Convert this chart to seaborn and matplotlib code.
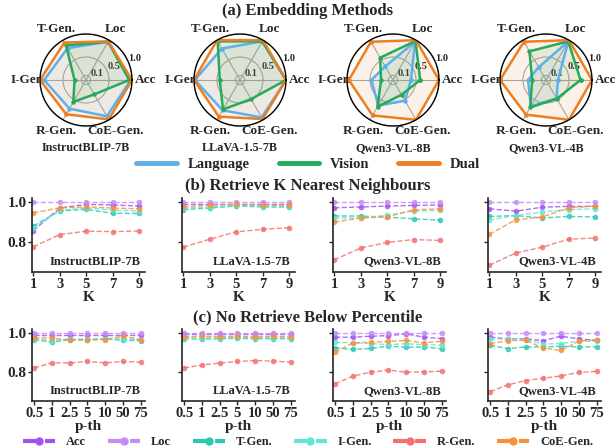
import numpy as np
import pandas as pd
import seaborn as sns
import matplotlib.pyplot as plt
from matplotlib.lines import Line2D

sns.set_style("ticks")
plt.rcParams['font.family'] = ['Liberation Serif', 'DejaVu Serif']
plt.rcParams['font.weight'] = 'bold'
plt.rcParams['axes.labelweight'] = 'bold'

W, H = 616, 448

models = ["InstructBLIP-7B", "LLaVA-1.5-7B", "Qwen3-VL-8B", "Qwen3-VL-4B"]

# (a) radar: order Acc, Loc, T-Gen., I-Gen, R-Gen., CoE-Gen.
radar_labels = ["Acc", "Loc", "T-Gen.", "I-Gen", "R-Gen.", "CoE-Gen."]
radar_language = [
    [0.97, 0.96, 0.80, 0.91, 0.72, 0.91],
    [1.00, 0.97, 0.79, 0.98, 0.76, 0.94],
    [0.39, 0.96, 0.34, 0.47, 0.64, 0.52],
    [0.26, 0.97, 0.32, 0.39, 0.66, 0.46],
]
radar_vision = [
    [0.94, 0.96, 0.87, 0.25, 0.55, 0.36],
    [1.00, 0.97, 0.97, 0.44, 0.74, 0.48],
    [0.59, 0.98, 0.56, 0.26, 0.67, 0.37],
    [0.75, 0.97, 0.72, 0.30, 0.69, 0.47],
]
radar_dual = [
    [1.00, 0.97, 0.94, 1.00, 0.86, 0.99],
    [1.00, 1.00, 1.00, 1.00, 0.92, 0.98],
    [1.00, 1.00, 0.96, 0.96, 0.89, 1.00],
    [1.00, 1.00, 0.96, 1.00, 0.87, 1.00],
]
methods = ["Language", "Vision", "Dual"]
method_colors = ["#5DB1E8", "#27A95A", "#EB7F22"]

metrics = ["Acc", "Loc", "T-Gen.", "I-Gen.", "R-Gen.", "CoE-Gen."]
metric_colors = ["#A252F2", "#C58CF8", "#2BC8B4", "#62E6D4", "#F4716E", "#F9913C"]

# (b) retrieve K nearest neighbours
k_values = [1, 3, 5, 7, 9]
k_acc = [[0.857, 0.970, 0.988, 0.985, 0.980],
         [0.990, 0.990, 0.990, 0.990, 0.990],
         [0.971, 0.975, 0.980, 0.983, 0.985],
         [0.966, 0.954, 0.974, 0.978, 0.978]]
k_loc = [[1.0, 1.0, 1.0, 1.0, 1.0],
         [1.0, 1.0, 1.0, 1.0, 1.0],
         [1.0, 1.0, 1.0, 1.0, 1.0],
         [1.0, 1.0, 1.0, 1.0, 1.0]]
k_tgen = [[0.880, 0.955, 0.963, 0.943, 0.943],
          [0.962, 0.970, 0.980, 0.975, 0.975],
          [0.930, 0.930, 0.924, 0.916, 0.909],
          [0.928, 0.932, 0.920, 0.928, 0.925]]
k_igen = [[0.870, 0.958, 0.970, 0.960, 0.955],
          [0.968, 0.975, 0.983, 0.980, 0.980],
          [0.920, 0.920, 0.934, 0.955, 0.958],
          [0.911, 0.932, 0.950, 0.962, 0.966]]
k_rgen = [[0.776, 0.837, 0.854, 0.852, 0.855],
          [0.774, 0.814, 0.851, 0.863, 0.872],
          [0.711, 0.770, 0.798, 0.812, 0.808],
          [0.684, 0.745, 0.774, 0.814, 0.820]]
k_coe = [[0.946, 0.971, 0.975, 0.970, 0.966],
         [0.974, 0.985, 0.988, 0.985, 0.985],
         [0.900, 0.920, 0.926, 0.961, 0.966],
         [0.839, 0.911, 0.925, 0.971, 0.980]]

# (c) no retrieve below percentile
p_values = ["0.5", "1", "2.5", "5", "10", "50", "75"]
p_acc = [[0.991, 0.991, 0.991, 0.991, 0.991, 0.991, 0.991],
         [0.995, 0.995, 0.995, 0.995, 0.995, 0.995, 0.995],
         [0.978, 0.978, 0.983, 0.986, 0.995, 0.978, 0.971],
         [0.978, 0.969, 0.969, 0.960, 0.983, 0.969, 0.962]]
p_loc = [[1.0] * 7, [1.0] * 7, [1.0] * 7, [1.0] * 7]
p_tgen = [[0.966, 0.952, 0.966, 0.962, 0.969, 0.962, 0.960],
          [0.970, 0.968, 0.970, 0.972, 0.970, 0.970, 0.970],
          [0.923, 0.915, 0.920, 0.932, 0.926, 0.928, 0.918],
          [0.936, 0.919, 0.928, 0.928, 0.931, 0.928, 0.928]]
p_igen = [[0.971, 0.960, 0.969, 0.969, 0.971, 0.969, 0.966],
          [0.975, 0.973, 0.975, 0.977, 0.975, 0.976, 0.975],
          [0.952, 0.949, 0.945, 0.940, 0.944, 0.940, 0.937],
          [0.969, 0.969, 0.966, 0.943, 0.945, 0.957, 0.957]]
p_rgen = [[0.820, 0.846, 0.846, 0.853, 0.846, 0.853, 0.850],
          [0.820, 0.835, 0.845, 0.853, 0.858, 0.855, 0.850],
          [0.738, 0.778, 0.798, 0.809, 0.798, 0.800, 0.803],
          [0.698, 0.733, 0.755, 0.767, 0.779, 0.797, 0.802]]
p_coe = [[0.974, 0.974, 0.962, 0.966, 0.966, 0.983, 0.966],
         [0.980, 0.982, 0.980, 0.982, 0.980, 0.982, 0.980],
         [0.900, 0.949, 0.952, 0.956, 0.961, 0.949, 0.957],
         [0.945, 0.960, 0.962, 0.922, 0.910, 0.957, 0.966]]


def long_frame(xs, series, xname):
    rows = []
    for metric, vals in zip(metrics, series):
        for x, v in zip(xs, vals):
            rows.append({xname: x, "metric": metric, "value": v})
    return pd.DataFrame(rows)


fig = plt.figure(figsize=(W / 100, H / 100), dpi=100)


def px_axes(left, top, width, height, **kw):
    return fig.add_axes([left / W, 1 - (top + height) / H, width / W, height / H], **kw)


# ---- (a) radar charts
fig.text(0.5, 1 - 11 / H, "(a) Embedding Methods", ha="center", va="center", fontsize=12, fontweight="bold")
centers = [86, 240, 393, 546]
r = 46
angles = np.linspace(0, 2 * np.pi, len(radar_labels), endpoint=False)
for i, cx in enumerate(centers):
    ax = px_axes(cx - r, 80 - r, 2 * r, 2 * r, projection="polar")
    for vals, col in zip([radar_language[i], radar_vision[i], radar_dual[i]], method_colors):
        v = np.r_[vals, vals[0]]
        a = np.r_[angles, angles[0]]
        ax.fill(a, v, color=col, alpha=0.1, lw=0)
        ax.plot(a, v, color=col, lw=1.8, marker="o", ms=2.2)
    ax.set_ylim(0, 1.0)
    ax.set_yticks([0.1, 0.5, 1.0])
    ax.set_yticklabels(["0.1", "0.5", "1.0"], fontsize=7.5, fontweight="bold")
    ax.set_rlabel_position(22)
    ax.set_thetagrids(np.degrees(angles), radar_labels, fontsize=9.5, fontweight="bold")
    ax.tick_params(axis="x", pad=-1)
    ax.grid(color="#a8a8a8", lw=0.8)
    ax.spines["polar"].set_color("black")
    ax.spines["polar"].set_linewidth(1.0)
    ax.set_facecolor("white")
    fig.text(cx / W, 1 - 148 / H, models[i], ha="center", va="center", fontsize=8.7, fontweight="bold")

handles = [Line2D([], [], color=c, lw=3.5) for c in method_colors]
fig.legend(handles, methods, loc="center", bbox_to_anchor=(0.5, 1 - 164 / H), ncol=3,
           frameon=False, handlelength=2.8, columnspacing=2.0, handletextpad=0.7,
           prop={"weight": "bold", "size": 10.5})

# ---- (b) and (c) line panels
lefts = [32, 182, 333, 488]
pal = dict(zip(metrics, metric_colors))


def line_row(top, height, xs, series_all, xname, xlim, title, title_y):
    fig.text(0.5, 1 - title_y / H, title, ha="center", va="center", fontsize=12, fontweight="bold")
    for i, left in enumerate(lefts):
        ax = px_axes(left, top, 113, height)
        series = [s[i] for s in series_all]
        df = long_frame(xs, series, xname)
        sns.lineplot(data=df, x=xname, y="value", hue="metric", palette=pal, hue_order=metrics,
                     marker="o", markersize=4, markeredgewidth=0, ls="--", lw=1.0, alpha=0.85,
                     sort=False, legend=False, ax=ax)
        if xname == "K":
            ax.set_xticks(xs)
        ax.set_xlim(*xlim)
        ax.set_ylim(0.65, 1.02)
        ax.set_yticks([0.8, 1.0])
        ax.set_yticklabels(["0.8", "1.0"])
        ax.set_xlabel(xname, fontsize=11, fontweight="bold", labelpad=0)
        ax.set_ylabel("")
        ax.tick_params(labelsize=10.5, length=3, width=1, pad=1)
        ax.tick_params(axis="y", labelsize=11)
        for lab in ax.get_xticklabels() + ax.get_yticklabels():
            lab.set_fontweight("bold")
        if i > 0:
            ax.set_yticklabels([])
        for s in ["left", "bottom"]:
            ax.spines[s].set_linewidth(1.2)
        sns.despine(ax=ax)
        ax.text(0.96, 0.06, models[i], transform=ax.transAxes, ha="right", va="bottom",
                fontsize=9, fontweight="bold")


line_row(198, 74, k_values, [k_acc, k_loc, k_tgen, k_igen, k_rgen, k_coe], "K", (0.9, 9.45),
         "(b) Retrieve K Nearest Neighbours", 186)
line_row(329, 72, p_values, [p_acc, p_loc, p_tgen, p_igen, p_rgen, p_coe], "p-th", (-0.12, 6.25),
         "(c) No Retrieve Below Percentile", 317)

handles = [Line2D([], [], color=c, lw=3, ls="--", marker="o", ms=5) for c in metric_colors]
fig.legend(handles, metrics, loc="center", bbox_to_anchor=(0.5, 1 - 442 / H), ncol=6,
           frameon=False, handlelength=2.6, columnspacing=1.7, handletextpad=0.9, numpoints=1,
           borderpad=0.1, prop={"weight": "bold", "size": 9})

fig.savefig("out.png", dpi=100)
